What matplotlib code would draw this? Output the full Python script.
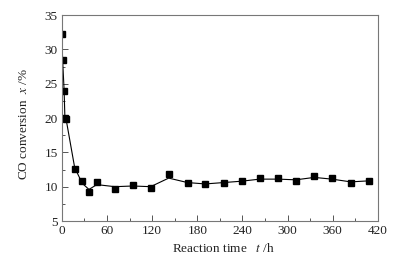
import matplotlib
import matplotlib.pyplot as plt
from matplotlib.ticker import MultipleLocator

matplotlib.use('Agg')

# measured points
time_h = [0, 1, 3, 4, 6, 17, 27, 36, 46.5, 70.5, 94.5, 118, 142, 167,
          190.5, 215, 239, 263, 287, 311, 335.5, 359, 384, 408]
conversion = [32.2, 28.5, 24.0, 20.0, 19.9, 12.6, 10.8, 9.2, 10.7, 9.7, 10.25, 9.75, 11.85, 10.6,
              10.4, 10.6, 10.8, 11.2, 11.2, 10.85, 11.5, 11.25, 10.6, 10.85]
# trend line, at the same times
trend = [32.2, 28.5, 24.0, 20.2, 19.6, 12.8, 10.5, 9.6, 10.3, 10.0, 10.1, 10.0, 11.25, 10.6,
         10.4, 10.6, 10.8, 11.1, 11.1, 11.0, 11.35, 11.1, 10.7, 10.85]

plt.rcParams['font.family'] = ['Liberation Serif', 'DejaVu Serif']
plt.rcParams['mathtext.fontset'] = 'stix'

fig = plt.figure(figsize=(3.94, 2.6), dpi=100)
ax = fig.add_axes([0.157, 0.15, 0.802, 0.792])

ax.plot(time_h, trend, color='black', linewidth=0.8)
ax.plot(time_h, conversion, linestyle='none', marker='s', markersize=4.3,
        color='black')

ax.set_xlim(0, 420)
ax.set_ylim(5, 35)
ax.xaxis.set_major_locator(MultipleLocator(60))
ax.xaxis.set_minor_locator(MultipleLocator(30))
ax.yaxis.set_major_locator(MultipleLocator(5))
ax.yaxis.set_minor_locator(MultipleLocator(2.5))
ax.tick_params(which='both', direction='in', top=False, right=False,
               color='#555555', labelcolor='#222222', labelsize=9.5, pad=3)
ax.tick_params(which='major', length=4, width=0.7)
ax.tick_params(which='minor', length=2.5, width=0.7)
for s in ax.spines.values():
    s.set_color('#777777')
    s.set_linewidth(0.8)

ax.set_xlabel('Reaction time   $t$ /h', fontsize=9.5, color='#222222')
ax.set_ylabel('CO conversion  $x$ /%', fontsize=9.5, color='#222222')
ax.xaxis.set_label_coords(0.513, -0.1)
ax.yaxis.set_label_coords(-0.1, 0.47)

fig.savefig('out.png', dpi=100)
plt.close()
